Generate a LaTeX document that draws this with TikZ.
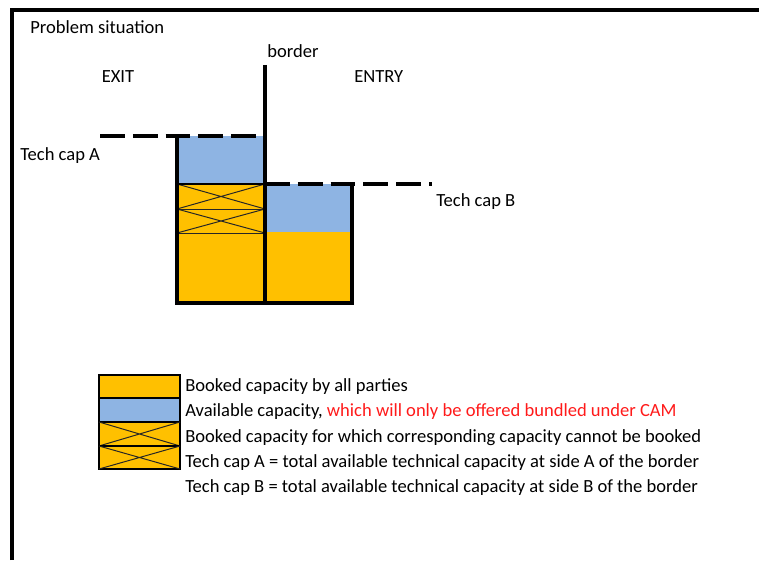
\documentclass[tikz,border=0pt]{standalone}
\usepackage{fontspec}
\setmainfont{Carlito}
\usepackage{tikz}
\usetikzlibrary{positioning}
\definecolor{bookorange}{HTML}{FFC000}
\definecolor{availblue}{HTML}{8EB4E3}
\definecolor{camred}{HTML}{FF1A1A}
\tikzstyle{txt}=[inner sep=0pt, anchor=west, font=\fontsize{13.2}{15}\selectfont]
\tikzstyle{thick line}=[line width=2.5pt]
\tikzstyle{cap line}=[line width=2.2pt, dash pattern=on 0.62cm off 0.2cm]
\tikzstyle{cross}=[line width=0.7pt, draw=black!85]
\tikzstyle{swatch}=[draw, line width=0.9pt]
\begin{document}
\begin{tikzpicture}
      \useasboundingbox (0,0) rectangle (18.975,14);
      % frame
      \draw [thick line] (0.3,0) -- (0.3,13.75) -- (18.975,13.75);
      \node [txt] (title) at (0.75,13.33) {Problem situation};
      \node [txt] (border) at (6.675,12.73) {border};
      \node [txt, anchor=center] (exit) at (2.95,12.08) {EXIT};
      \node [txt] (entry) at (8.85,12.08) {ENTRY};
      \node [txt] (capAtxt) at (0.5,10.1) {Tech cap A};
      \node [txt] (capBtxt) at (10.9,8.95) {Tech cap B};
      % exit side
      \fill [bookorange] (4.425,6.425) rectangle (6.625,9.4);
      \fill [availblue] (4.425,9.4) rectangle (6.625,10.6);
      \foreach \lo/\hi in {8.775/9.4, 8.175/8.775} {
        \draw [cross] (4.425,\lo) rectangle (6.625,\hi);
        \draw [cross] (4.425,\lo) -- (6.625,\hi) (4.425,\hi) -- (6.625,\lo);
      }
      \draw [line width=0.9pt] (4.425,9.4) -- (6.625,9.4);
      % entry side
      \fill [bookorange] (6.625,6.425) rectangle (8.8,8.2);
      \fill [availblue] (6.625,8.2) rectangle (8.8,9.4);
      \draw [thick line] (4.425,10.6) -- (4.425,6.425) -- (8.8,6.425) -- (8.8,9.4);
      % tech caps
      \coordinate (a0) at (2.5,10.6);
      \coordinate (a1) at (6.625,10.6);
      \coordinate (b0) at (6.625,9.4);
      \coordinate (b1) at (10.8,9.4);
      \draw [cap line] (a0) -- (a1);
      \draw [cap line] (b0) -- (b1);
      % border
      \coordinate (top) at (6.625,12.375);
      \coordinate (bot) at (6.625,6.425);
      \draw [thick line] (top) -- (bot);
      % legend
      \fill [bookorange] (2.475,2.275) rectangle (4.5,4.625);
      \fill [availblue] (2.475,3.45) rectangle (4.5,4.05);
      \draw [swatch] (2.475,4.05) rectangle (4.5,4.625);
      \draw [swatch] (2.475,3.45) rectangle (4.5,4.05);
      \foreach \lo/\hi in {2.85/3.45, 2.275/2.85} {
        \draw [swatch] (2.475,\lo) rectangle (4.5,\hi);
        \draw [cross] (2.475,\lo) -- (4.5,\hi) (2.475,\hi) -- (4.5,\lo);
      }
      \node [txt] (leg1) at (4.625,4.325) {Booked capacity by all parties};
      \node [txt] (leg2) at (4.625,3.7) {Available capacity, \textcolor{camred}{which will only be offered bundled under CAM}};
      \node [txt] (leg3) at (4.625,3.05) {Booked capacity for which corresponding capacity cannot be booked};
      \node [txt] (leg4) at (4.625,2.425) {Tech cap A = total available technical capacity at side A of the border};
      \node [txt] (leg5) at (4.625,1.8) {Tech cap B = total available technical capacity at side B of the border};
\end{tikzpicture}
\end{document}
